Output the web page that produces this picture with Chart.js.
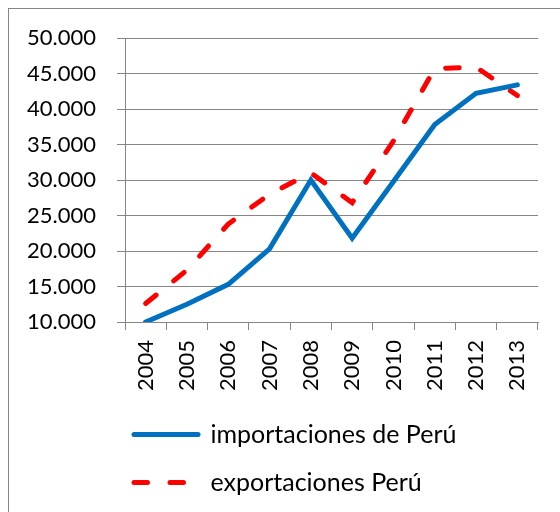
<!DOCTYPE html>
<html lang="es">
<head>
<meta charset="UTF-8" />
<title>Importaciones y exportaciones de Perú</title>
<script src="https://cdn.jsdelivr.net/npm/chart.js"></script>
<style>
  body { margin: 0; background: #fff; }
  .wrap { position: relative; width: 560px; height: 512px; overflow: hidden; }
  .frame { position: absolute; left: 8px; top: 8px; width: 700px; height: 700px; border: 1px solid #868686; }
  canvas { position: absolute; left: 0; top: 0; }
</style>
</head>
<body>
<div class="wrap">
  <div class="frame"></div>
  <canvas id="tradeChart" width="560" height="512"></canvas>
</div>
<script>
  // millones de US$
  const years = ['2004', '2005', '2006', '2007', '2008', '2009', '2010', '2011', '2012', '2013'];
  const importaciones = [10000, 12500, 15300, 20300, 30000, 21800, 29800, 37800, 42200, 43400];
  const exportaciones = [12600, 17300, 23800, 28000, 31000, 26800, 35500, 45700, 45900, 41900];
  const yMin = 10000, yMax = 50000, yStep = 5000;

  const tickFont = { family: 'Lato', size: 22 };
  const legendFont = { family: 'Lato', size: 25 };
  const gridColor = '#868686';

  // 50000 -> "50.000"
  function fmt(v) {
    return String(v).replace(/\B(?=(\d{3})+(?!\d))/g, '.');
  }

  // with usePointStyle the legend takes its style from the points,
  // so copy the dash and round caps over from the line itself
  function legendLabels(chart) {
    return Chart.defaults.plugins.legend.labels.generateLabels(chart).map(item => {
      const ds = chart.data.datasets[item.datasetIndex];
      return { ...item, lineDash: ds.borderDash || [], lineCap: 'round' };
    });
  }

  new Chart(document.getElementById('tradeChart'), {
    type: 'line',
    data: {
      labels: years,
      datasets: [{
        label: 'importaciones de Perú',
        data: importaciones,
        borderColor: '#0070C0',
        backgroundColor: '#0070C0',
        borderWidth: 5,
        borderCapStyle: 'round',
        pointRadius: 0,
        tension: 0,
        fill: false
      }, {
        label: 'exportaciones Perú',
        data: exportaciones,
        borderColor: '#FF0000',
        backgroundColor: '#FF0000',
        borderWidth: 5,
        borderDash: [13.5, 22.5],
        borderCapStyle: 'round',
        pointRadius: 0,
        tension: 0,
        fill: false
      }]
    },
    options: {
      responsive: false,
      animation: false,
      // the legend starts further left than the plot, so the y axis is kept
      // narrow and its labels are mirrored back out to the left
      layout: { padding: { top: 38, right: 22, left: 111, bottom: 7 } },
      plugins: {
        tooltip: { enabled: false },
        legend: {
          position: 'bottom',
          align: 'start',
          labels: {
            usePointStyle: true,
            pointStyle: 'line',
            pointStyleWidth: 64,
            padding: 23,
            color: '#000',
            font: legendFont,
            generateLabels: legendLabels
          }
        }
      },
      scales: {
        x: {
          offset: true,
          afterFit: s => { s.height = 77; },
          grid: { offset: true, drawOnChartArea: false, tickLength: 8, color: gridColor },
          border: { color: gridColor },
          ticks: { minRotation: 90, maxRotation: 90, padding: 10, color: '#000', font: tickFont }
        },
        y: {
          min: yMin,
          max: yMax,
          afterFit: s => { s.width = 14; },
          grid: { color: gridColor, tickLength: 8 },
          border: { color: gridColor },
          ticks: {
            stepSize: yStep,
            mirror: true,
            padding: -98,
            color: '#000',
            font: tickFont,
            callback: fmt
          }
        }
      }
    }
  });
</script>
</body>
</html>
